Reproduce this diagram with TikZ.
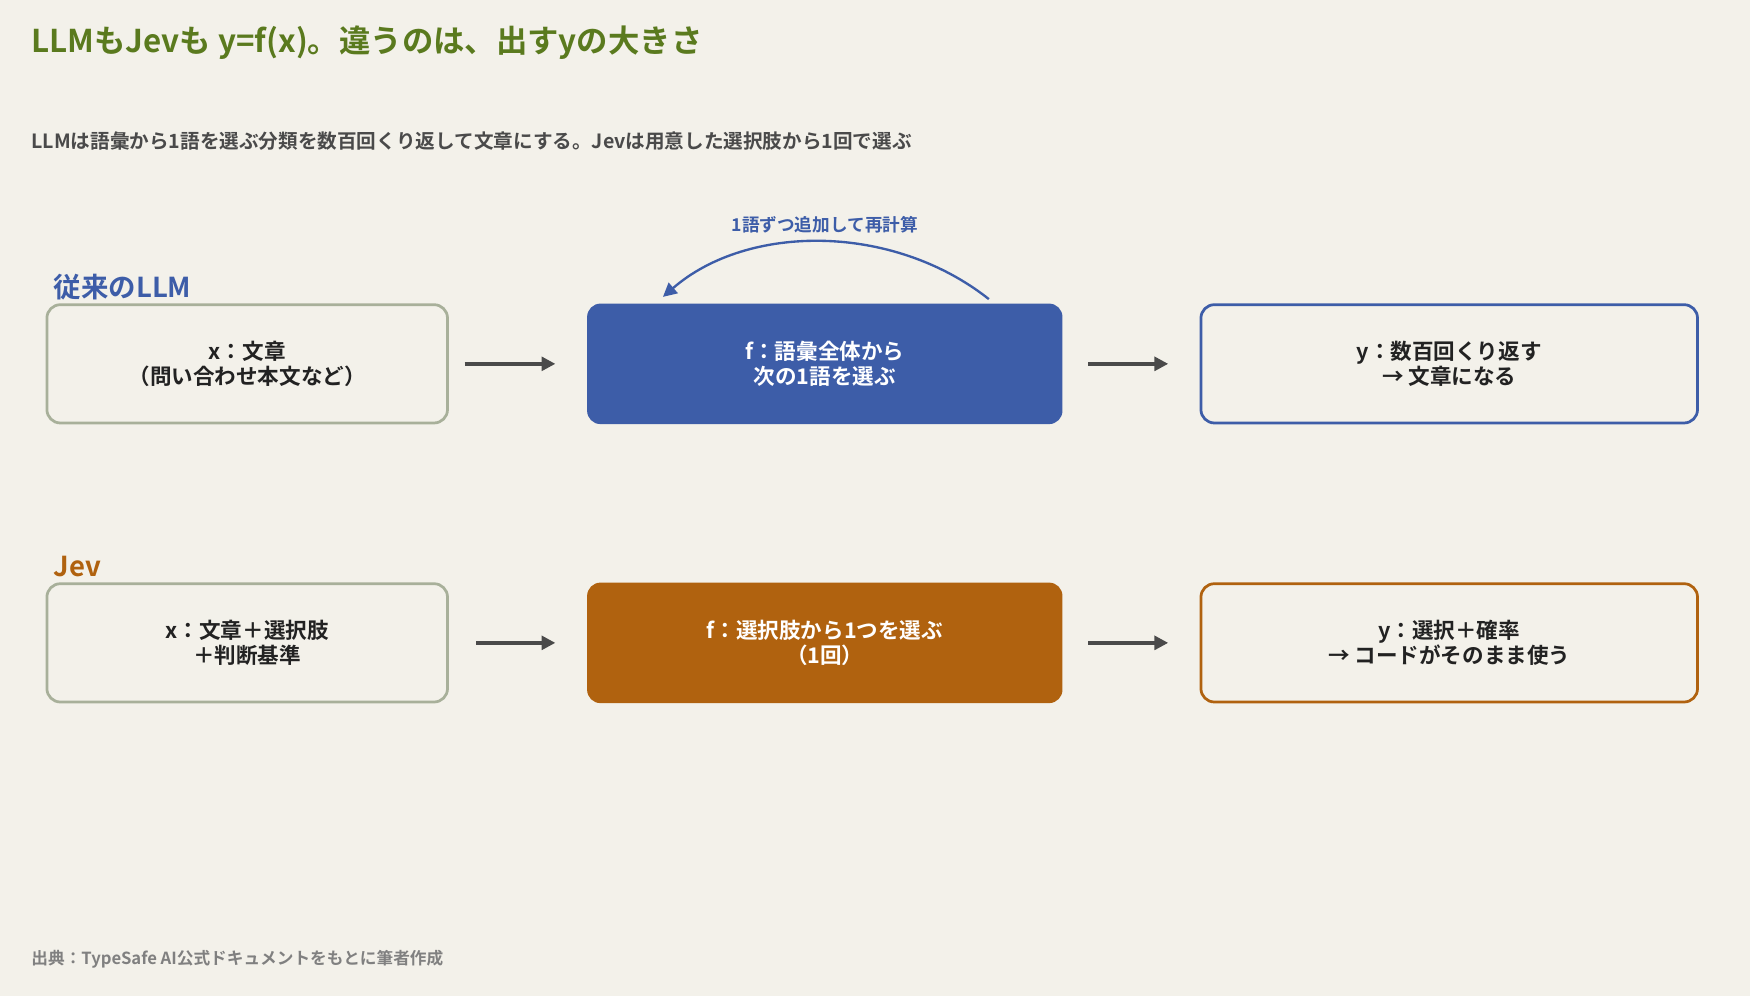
\documentclass[tikz,border=0pt]{standalone}
\usepackage{fontspec}
\setmainfont{Noto Sans CJK JP}[BoldFont={* Bold}]
\usetikzlibrary{arrows.meta}
\definecolor{bgc}{HTML}{F3F1EA}
\definecolor{titleg}{HTML}{5A7A1E}
\definecolor{llmblue}{HTML}{3D5DA8}
\definecolor{jevor}{HTML}{B0620F}
\definecolor{boxgray}{HTML}{A8B09A}
\definecolor{darkt}{HTML}{222222}
\definecolor{arrowc}{HTML}{4A4A4A}
\begin{document}
\begin{tikzpicture}[x=0.02cm, y=-0.02cm]
    % Styles
    \tikzstyle{inbox} = [rectangle, rounded corners=0.24cm, draw=boxgray, line width=1.4pt, fill=bgc, minimum width=7.18cm, minimum height=2.12cm, align=center, font=\bfseries\fontsize{11}{13}\selectfont, text=darkt]
    \tikzstyle{fbox} = [rectangle, rounded corners=0.24cm, minimum width=8.52cm, minimum height=2.16cm, align=center, font=\bfseries\fontsize{11}{13}\selectfont, text=white]
    \tikzstyle{outbox} = [inbox, minimum width=8.9cm]
    \tikzstyle{arrow} = [-{Triangle[length=7pt,width=7pt]}, line width=1.7pt, draw=arrowc]
    \tikzstyle{rowlabel} = [anchor=west, font=\bfseries\fontsize{14}{16}\selectfont]

    % Background
    \fill[bgc] (0,0) rectangle (1568,892);
    \useasboundingbox (0,0) rectangle (1568,892);

    % Headings
    \node[anchor=west, text=titleg, font=\bfseries\fontsize{16}{18}\selectfont] (title) at (22,38) {LLMもJevも y=f(x)。違うのは、出すyの大きさ};
    \node[anchor=west, text=arrowc, font=\bfseries\fontsize{10}{12}\selectfont] (sub) at (22,126) {LLMは語彙から1語を選ぶ分類を数百回くり返して文章にする。Jevは用意した選択肢から1回で選ぶ};

    % Row 1: LLM
    \node[rowlabel, text=llmblue] (llm) at (42,257) {従来のLLM};
    \node[inbox] (x1) at (221.5,326) {x：文章\\（問い合わせ本文など）};
    \node[fbox, fill=llmblue] (f1) at (739,326) {f：語彙全体から\\次の1語を選ぶ};
    \node[outbox, draw=llmblue] (y1) at (1298.5,326) {y：数百回くり返す\\→ 文章になる};
    \coordinate (loopa) at (886,268);
    \coordinate (loopb) at (594,266);
    \draw[arrow] (x1.east) ++(14,0) coordinate (a1) -- ([xshift=-16]f1.west);
    \draw[arrow] ([xshift=13]f1.east) -- ([xshift=-16]y1.west);
    \draw[-{Triangle[length=7pt,width=7pt]}, line width=1.2pt, llmblue] (loopa) .. controls (800,200) and (670,200) .. (loopb);
    \node[text=llmblue, font=\bfseries\fontsize{9}{11}\selectfont] (looplbl) at (739,201) {1語ずつ追加して再計算};

    % Row 2: Jev
    \node[rowlabel, text=jevor] (jev) at (42,508) {Jev};
    \node[inbox] (x2) at (221.5,576) {x：文章＋選択肢\\＋判断基準};
    \node[fbox, fill=jevor] (f2) at (739,576) {f：選択肢から1つを選ぶ\\（1回）};
    \node[outbox, draw=jevor] (y2) at (1298.5,576) {y：選択＋確率\\→ コードがそのまま使う};
    \draw[arrow] ([xshift=14]x2.east) -- ([xshift=-16]f2.west);
    \draw[arrow] ([xshift=13]f2.east) -- ([xshift=-16]y2.west);

    % Source
    \node[anchor=west, text=gray, font=\bfseries\fontsize{8.5}{10}\selectfont] (src) at (22,859) {出典：TypeSafe AI公式ドキュメントをもとに筆者作成};
\end{tikzpicture}
\end{document}
